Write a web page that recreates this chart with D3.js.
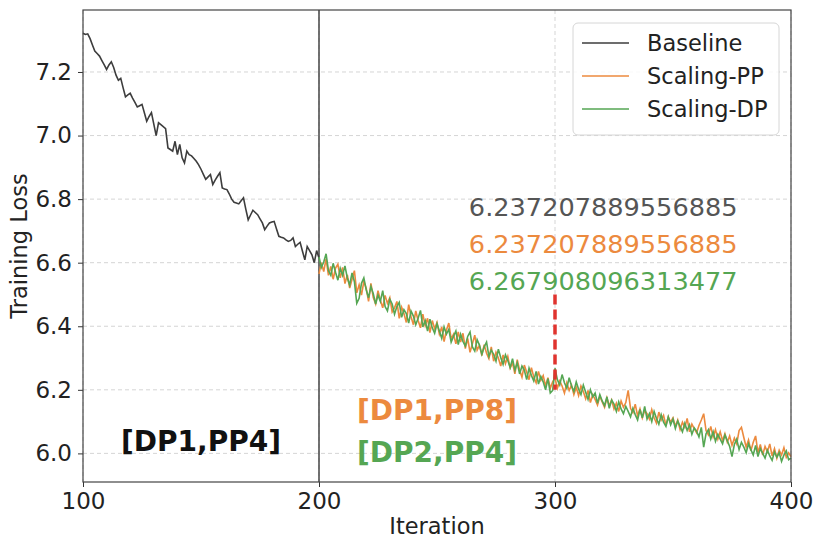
<!DOCTYPE html>
<html>
<head>
<meta charset="utf-8">
<script src="https://cdn.jsdelivr.net/npm/d3@7"></script>
<style>
  html, body { margin: 0; padding: 0; background: #fff; }
  svg { display: block; font-family: "DejaVu Sans", sans-serif; }
</style>
</head>
<body>
<div id="chart"></div>
<script>
// Training loss: baseline for 100..200, then two scaled configs for 200..400.

const baselineStart = 100;
const baseline = [
  7.322, 7.318, 7.320, 7.305, 7.285, 7.266, 7.258, 7.250, 7.236, 7.222,
  7.208, 7.222, 7.232, 7.214, 7.190, 7.174, 7.180, 7.150, 7.122, 7.128,
  7.133, 7.118, 7.104, 7.090, 7.094, 7.098, 7.072, 7.045, 7.060, 7.072,
  7.036, 7.000, 7.040, 7.034, 7.028, 7.022, 6.961, 6.956, 6.951, 6.982,
  6.940, 6.972, 6.930, 6.914, 6.951, 6.940, 6.936, 6.928, 6.919, 6.908,
  6.894, 6.878, 6.862, 6.870, 6.877, 6.846, 6.860, 6.872, 6.883, 6.835,
  6.832, 6.830, 6.816, 6.800, 6.790, 6.788, 6.785, 6.795, 6.804, 6.768,
  6.735, 6.750, 6.765, 6.758, 6.751, 6.738, 6.725, 6.704, 6.715, 6.725,
  6.728, 6.730, 6.706, 6.683, 6.680, 6.678, 6.672, 6.667, 6.670, 6.678,
  6.651, 6.658, 6.664, 6.636, 6.609, 6.651, 6.638, 6.625, 6.600, 6.638,
  6.615
];

const scalingStart = 200;
const scalingPP = [
  6.565, 6.600, 6.572, 6.612, 6.560, 6.588, 6.548, 6.583, 6.595, 6.552,
  6.585, 6.534, 6.562, 6.520, 6.548, 6.575, 6.505, 6.530, 6.498, 6.541,
  6.520, 6.478, 6.535, 6.490, 6.470, 6.512, 6.482, 6.458, 6.497, 6.472,
  6.490, 6.445, 6.458, 6.478, 6.425, 6.460, 6.440, 6.412, 6.468, 6.430,
  6.405, 6.448, 6.418, 6.395, 6.438, 6.402, 6.425, 6.380, 6.418, 6.392,
  6.412, 6.375, 6.398, 6.352, 6.388, 6.410, 6.360, 6.375, 6.345, 6.382,
  6.350, 6.378, 6.330, 6.362, 6.318, 6.345, 6.372, 6.325, 6.340, 6.308,
  6.342, 6.315, 6.298, 6.335, 6.290, 6.318, 6.300, 6.275, 6.310, 6.282,
  6.305, 6.268, 6.285, 6.250, 6.295, 6.262, 6.240, 6.278, 6.255, 6.232,
  6.270, 6.240, 6.222, 6.258, 6.230, 6.245, 6.212, 6.238, 6.205, 6.225,
  6.237, 6.205, 6.228, 6.212, 6.190, 6.222, 6.198, 6.215, 6.185, 6.208,
  6.182, 6.212, 6.195, 6.172, 6.198, 6.160, 6.185, 6.170, 6.152, 6.180,
  6.162, 6.145, 6.175, 6.150, 6.168, 6.140, 6.158, 6.132, 6.165, 6.145,
  6.160, 6.198, 6.142, 6.128, 6.155, 6.118, 6.140, 6.112, 6.135, 6.125,
  6.108, 6.138, 6.112, 6.095, 6.130, 6.105, 6.120, 6.088, 6.115, 6.098,
  6.112, 6.085, 6.105, 6.075, 6.098, 6.082, 6.110, 6.068, 6.092, 6.078,
  6.065, 6.088, 6.105, 6.125, 6.072, 6.058, 6.085, 6.052, 6.075, 6.045,
  6.068, 6.040, 6.062, 6.035, 6.055, 6.025, 6.048, 6.030, 6.072, 6.082,
  6.050, 6.020, 6.042, 6.008, 6.035, 6.055, 6.002, 6.028, 5.995, 6.022,
  6.005, 6.030, 5.992, 6.015, 5.985, 6.010, 5.995, 6.018, 5.988, 6.002,
  5.990
];
const scalingDP = [
  6.618, 6.585, 6.602, 6.628, 6.575, 6.560, 6.598, 6.570, 6.545, 6.582,
  6.560, 6.590, 6.552, 6.530, 6.568, 6.540, 6.472, 6.488, 6.535, 6.552,
  6.515, 6.490, 6.525, 6.502, 6.470, 6.498, 6.478, 6.512, 6.462, 6.448,
  6.485, 6.470, 6.438, 6.462, 6.475, 6.428, 6.452, 6.440, 6.410, 6.448,
  6.432, 6.405, 6.425, 6.450, 6.398, 6.418, 6.385, 6.422, 6.395, 6.378,
  6.408, 6.385, 6.362, 6.398, 6.375, 6.390, 6.350, 6.368, 6.385, 6.342,
  6.375, 6.352, 6.338, 6.368, 6.382, 6.335, 6.322, 6.358, 6.340, 6.312,
  6.335, 6.350, 6.305, 6.325, 6.312, 6.290, 6.328, 6.302, 6.280, 6.310,
  6.292, 6.270, 6.298, 6.262, 6.285, 6.250, 6.275, 6.262, 6.232, 6.268,
  6.245, 6.228, 6.258, 6.218, 6.242, 6.225, 6.200, 6.235, 6.190, 6.198,
  6.268, 6.232, 6.215, 6.248, 6.222, 6.205, 6.238, 6.212, 6.195, 6.225,
  6.202, 6.185, 6.215, 6.192, 6.170, 6.200, 6.178, 6.190, 6.158, 6.185,
  6.165, 6.150, 6.178, 6.142, 6.168, 6.155, 6.132, 6.162, 6.140, 6.125,
  6.148, 6.132, 6.115, 6.142, 6.122, 6.105, 6.138, 6.112, 6.148, 6.108,
  6.125, 6.100, 6.132, 6.110, 6.092, 6.122, 6.098, 6.085, 6.115, 6.090,
  6.108, 6.078, 6.102, 6.085, 6.068, 6.095, 6.072, 6.090, 6.060, 6.080,
  6.070, 6.052, 6.082, 6.020, 6.062, 6.075, 6.045, 6.068, 6.038, 6.060,
  6.045, 6.030, 6.058, 6.040, 6.022, 5.990, 6.028, 6.045, 6.012, 6.035,
  6.020, 6.002, 6.030, 6.012, 5.995, 6.025, 5.990, 6.015, 6.000, 5.985,
  6.010, 5.992, 5.978, 6.005, 5.988, 6.002, 5.975, 5.995, 6.008, 5.980,
  5.985
];

const xTicks = [100, 200, 300, 400];
const yTicks = [6.0, 6.2, 6.4, 6.6, 6.8, 7.0, 7.2];
const legendLabels = ["Baseline", "Scaling-PP", "Scaling-DP"];
const lossLabels = ["6.237207889556885", "6.237207889556885", "6.267908096313477"];
const configLabels = ["[DP1,PP4]", "[DP1,PP8]", "[DP2,PP4]"];
const switchIter = 200;
const markIter = 300;
const markRange = [6.2, 6.5];

const COLORS = { base: "#3d3d3d", pp: "#ec8a3e", dp: "#55a653", text: "#555555", mark: "#e0332e" };

const W = 817, H = 538;
const margin = { top: 10, right: 26, bottom: 56, left: 83 };
const iw = W - margin.left - margin.right;
const ih = H - margin.top - margin.bottom;

const svg = d3.select("#chart").append("svg").attr("width", W).attr("height", H);
const g = svg.append("g").attr("transform", `translate(${margin.left},${margin.top})`);

const x = d3.scaleLinear().domain([100, 400]).range([0, iw]);
const y = d3.scaleLinear().domain([5.91, 7.395]).range([ih, 0]);

// grid
const grid = g.append("g").attr("stroke", "#d0d0d0").attr("stroke-dasharray", "4,3").attr("stroke-width", 0.9);
grid.selectAll("line.gy").data(yTicks).enter().append("line")
  .attr("x1", 0).attr("x2", iw).attr("y1", d => y(d)).attr("y2", d => y(d));
grid.selectAll("line.gx").data(xTicks).enter().append("line")
  .attr("y1", 0).attr("y2", ih).attr("x1", d => x(d)).attr("x2", d => x(d));

// axes
const xAxis = g.append("g").attr("transform", `translate(0,${ih})`)
  .call(d3.axisBottom(x).tickValues(xTicks).tickSize(5).tickPadding(6).tickFormat(d3.format("d")));
const yAxis = g.append("g")
  .call(d3.axisLeft(y).tickValues(yTicks).tickSize(5).tickPadding(6).tickFormat(d3.format(".1f")));
for (const ax of [xAxis, yAxis]) {
  ax.select(".domain").remove();
  ax.selectAll("line").attr("stroke", "#333");
  ax.selectAll("text").attr("font-size", 23).attr("fill", "#222").attr("font-family", "DejaVu Sans");
}

const line = d3.line().x(d => x(d[0])).y(d => y(d[1]));
const pts = (arr, start) => arr.map((v, i) => [start + i, v]);

// switch marker
g.append("line").attr("x1", x(switchIter)).attr("x2", x(switchIter)).attr("y1", 0).attr("y2", ih)
  .attr("stroke", "#444").attr("stroke-width", 1.5);

g.append("path").datum(pts(baseline, baselineStart)).attr("d", line)
  .attr("fill", "none").attr("stroke", COLORS.base).attr("stroke-width", 1.6);
g.append("path").datum(pts(scalingPP, scalingStart)).attr("d", line)
  .attr("fill", "none").attr("stroke", COLORS.pp).attr("stroke-width", 1.6);
g.append("path").datum(pts(scalingDP, scalingStart)).attr("d", line)
  .attr("fill", "none").attr("stroke", COLORS.dp).attr("stroke-width", 1.6);

// red dashed marker at 300
g.append("line").attr("x1", x(markIter)).attr("x2", x(markIter))
  .attr("y1", y(markRange[1])).attr("y2", y(markRange[0]))
  .attr("stroke", COLORS.mark).attr("stroke-width", 3.5).attr("stroke-dasharray", "10,5");

// loss value labels
const lossColors = [COLORS.text, COLORS.pp, COLORS.dp];
g.selectAll("text.loss").data(lossLabels).enter().append("text")
  .attr("class", "loss")
  .attr("x", x(263.5)).attr("y", (d, i) => 216 - margin.top + i * 37)
  .attr("font-size", 25.6).attr("fill", (d, i) => lossColors[i])
  .text(d => d);

// config labels
const cfg = [
  { t: configLabels[0], c: "#111", cx: x(150), cy: 441 },
  { t: configLabels[1], c: COLORS.pp, cx: x(250), cy: 410 },
  { t: configLabels[2], c: COLORS.dp, cx: x(250), cy: 452 }
];
g.selectAll("text.cfg").data(cfg).enter().append("text")
  .attr("x", d => d.cx).attr("y", d => d.cy - margin.top)
  .attr("dy", "0.36em").attr("text-anchor", "middle")
  .attr("font-size", 28).attr("font-weight", "bold").attr("fill", d => d.c)
  .text(d => d.t);

// frame
g.append("rect").attr("width", iw).attr("height", ih).attr("fill", "none").attr("stroke", "#444").attr("stroke-width", 1.2);

// legend
const lg = g.append("g").attr("transform", `translate(${573 - margin.left},${23 - margin.top})`);
lg.append("rect").attr("width", 206).attr("height", 112).attr("rx", 5)
  .attr("fill", "rgba(255,255,255,0.85)").attr("stroke", "#d6d6d6");
const legColors = [COLORS.base, COLORS.pp, COLORS.dp];
legendLabels.forEach((t, i) => {
  const yy = 20 + i * 33;
  lg.append("line").attr("x1", 9).attr("x2", 56).attr("y1", yy).attr("y2", yy)
    .attr("stroke", legColors[i]).attr("stroke-width", 1.5);
  lg.append("text").attr("x", 74).attr("y", yy).attr("dy", "0.35em")
    .attr("font-size", 22.5).attr("fill", "#222").text(t);
});

// axis titles
svg.append("text").attr("x", margin.left + iw / 2).attr("y", 534)
  .attr("text-anchor", "middle").attr("font-size", 22.5).attr("fill", "#222").text("Iteration");
svg.append("text").attr("transform", `translate(27,${margin.top + ih / 2}) rotate(-90)`)
  .attr("text-anchor", "middle").attr("font-size", 22.5).attr("fill", "#222").text("Training Loss");
</script>
</body>
</html>
